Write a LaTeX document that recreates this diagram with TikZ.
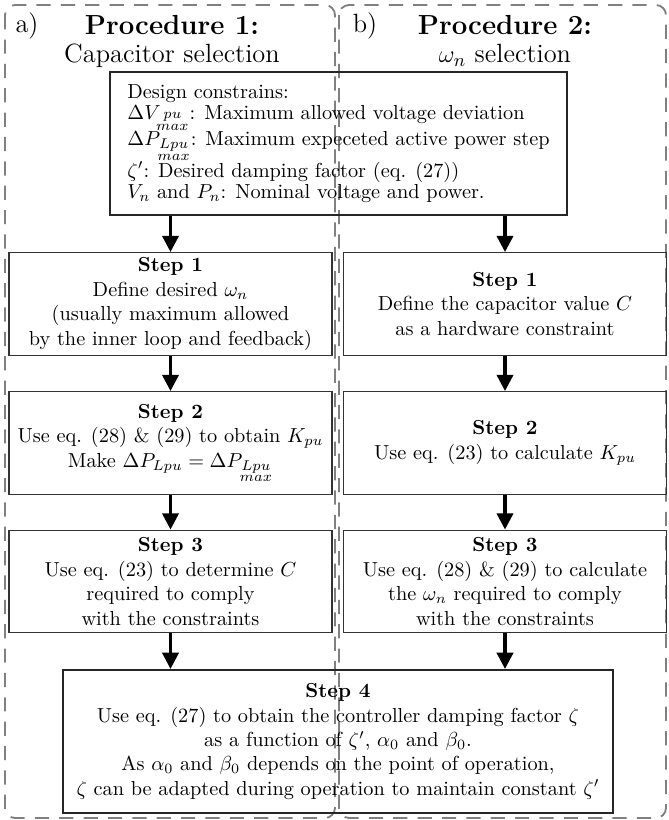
\documentclass[tikz,border=0pt]{standalone}
\usepackage{amsmath}
\usetikzlibrary{arrows.meta}

\newcommand{\tightlines}{\fontsize{10pt}{10.5pt}\selectfont\lineskip=0.8pt\lineskiplimit=0pt\relax}
\newcommand{\headfont}{\fontsize{13pt}{13.8pt}\selectfont}
\newcommand{\procfont}{\fontsize{13.6pt}{13.8pt}\selectfont\bfseries}

\begin{document}
\begin{tikzpicture}[
    x=0.4926pt, y=-0.4926pt,
    frame/.style={draw=black!50, line width=0.9pt, dash pattern=on 7pt off 5pt, rounded corners=5pt},
    heading/.style={font=\headfont, align=center, inner sep=0pt},
    mainbox/.style={rectangle, draw=black!85, line width=1.1pt, inner sep=2pt},
    stepbox/.style={rectangle, draw=black!80, line width=0.7pt, minimum width=159pt, minimum height=50.5pt, align=center, inner sep=2pt},
    flow/.style={-{Triangle[width=8pt,length=8pt]}, ultra thick}
]

\useasboundingbox (0,0) rectangle (668,820);

% Procedure frames
\draw[frame] (5,5) rectangle (335,818);
\draw[frame] (339,5) rectangle (666,818);

% Titles
\node[heading] (lbla) at (27,26) {a)};
\node[heading] (lblb) at (365,26) {b)};
\node[heading] (proc1) at (172,41) {{\procfont Procedure 1:}\\Capacitor selection};
\node[heading] (proc2) at (505,41) {{\procfont Procedure 2:}\\$\omega_n$ selection};

% Design constraints
\node[mainbox, minimum width=225pt, minimum height=70.4pt, align=left, font=\tightlines] (design) at (338.5,143.5)
    {Design constrains:\\
     $\Delta V_{\substack{pu\\max}}$: Maximum allowed voltage deviation\\
     $\Delta P_{\substack{Lpu\\max}}$: Maximum expeceted active power step\\
     $\zeta'$: Desired damping factor (eq. (27))\\
     $V_n$ and $P_n$: Nominal voltage and power.};

% Procedure 1 steps
\node[stepbox] (s1a) at (170.5,304) {\textbf{Step 1}\\Define desired $\omega_n$\\(usually maximum allowed\\by the inner loop and feedback)};
\node[stepbox] (s2a) at (170.5,443) {\textbf{Step 2}\\Use eq. (28) \& (29) to obtain $K_{pu}$\\Make $\Delta P_{Lpu}=\Delta P_{\substack{Lpu\\max}}$};
\node[stepbox] (s3a) at (170.5,581.5) {\textbf{Step 3}\\Use eq. (23) to determine $C$\\required to comply\\with the constraints};

% Procedure 2 steps
\node[stepbox] (s1b) at (505,304) {\textbf{Step 1}\\Define the capacitor value $C$\\as a hardware constraint};
\node[stepbox] (s2b) at (505,443) {\textbf{Step 2}\\Use eq. (23) to calculate $K_{pu}$};
\node[stepbox] (s3b) at (505,581.5) {\textbf{Step 3}\\Use eq. (28) \& (29) to calculate\\the $\omega_n$ required to comply\\with the constraints};

% Common last step
\node[mainbox, minimum width=271pt, minimum height=70.4pt, align=center] (s4) at (338,741.5)
    {\textbf{Step 4}\\Use eq. (27) to obtain the controller damping factor $\zeta$\\as a function of $\zeta'$, $\alpha_0$ and $\beta_0$.\\As $\alpha_0$ and $\beta_0$ depends on the point of operation,\\$\zeta$ can be adapted during operation to maintain constant $\zeta'$};

% Arrows
\draw[flow] (s1a.north |- design.south) -- (s1a.north);
\draw[flow] (s1b.north |- design.south) -- (s1b.north);
\draw[flow] (s1a) -- (s2a);
\draw[flow] (s2a) -- (s3a);
\draw[flow] (s1b) -- (s2b);
\draw[flow] (s2b) -- (s3b);
\draw[flow] (s3a.south) -- (s3a.south |- s4.north);
\draw[flow] (s3b.south) -- (s3b.south |- s4.north);

\end{tikzpicture}
\end{document}
